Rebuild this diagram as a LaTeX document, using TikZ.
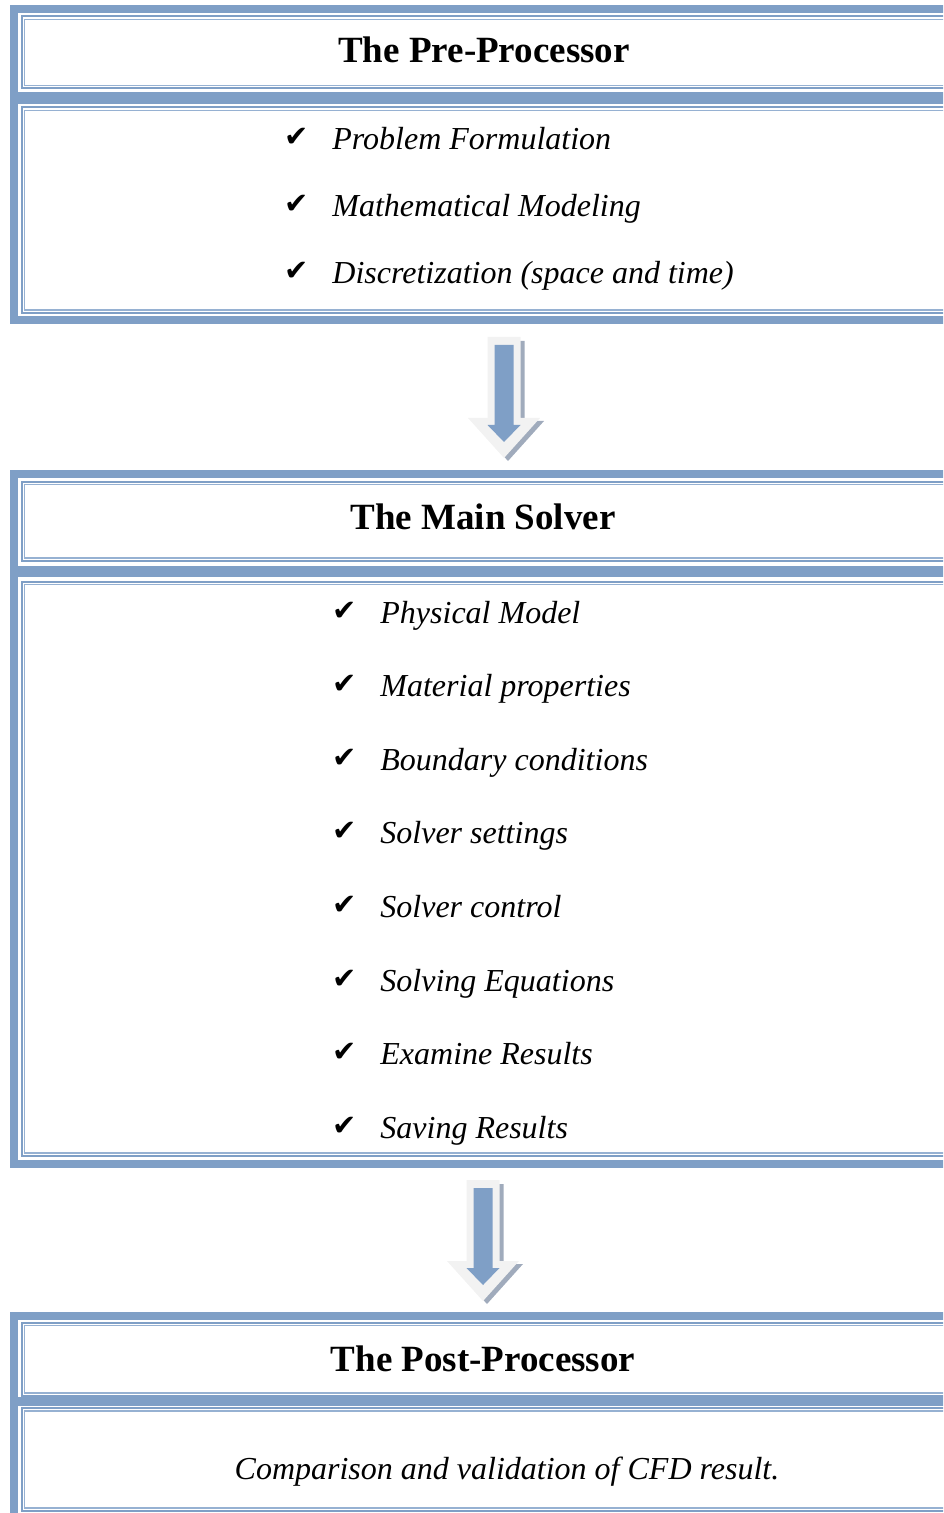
\documentclass[tikz,border=0pt]{standalone}
\usepackage{fontspec}
\setmainfont{Liberation Serif}
\newfontfamily\symfont{DejaVu Sans}
\definecolor{frameblue}{RGB}{127,159,198}
\definecolor{framelight}{RGB}{150,177,210}
\definecolor{arrowgray}{RGB}{242,242,242}
\definecolor{arrowshade}{RGB}{160,171,188}
\tikzset{
  band/.style={draw=frameblue,line width=4pt},
  dline/.style={draw=frameblue,line width=1pt},
  dlight/.style={draw=framelight,line width=0.6pt},
  title/.style={font=\fontsize{18.5}{22}\selectfont\bfseries,anchor=base,inner sep=0pt},
  item/.style={font=\fontsize{16}{19}\selectfont\itshape,anchor=base west,inner sep=0pt},
  tick/.style={font=\symfont\fontsize{14.5}{17}\selectfont,anchor=base west,inner sep=0pt}
}
\newcommand{\dframe}[4]{\draw[dline] (#1,#2) rectangle (#3,#4); \draw[dlight] (#1+3,#2+3) rectangle (#3-3,#4-3);}
\newcommand{\flowarrow}[2]{%
  \begin{scope}[shift={(#1,#2)}]
    \fill[arrowshade] (-12.5,4) -- (20.5,4) -- (20.5,84) -- (40,84) -- (4,124) -- (-32,84) -- (-12.5,84) -- cycle;
    \fill[arrowgray] (-16.5,0) -- (16.5,0) -- (16.5,81) -- (36,81) -- (0,121) -- (-36,81) -- (-16.5,81) -- cycle;
    \fill[frameblue] (-9.5,8) -- (9.5,8) -- (9.5,88) -- (16.5,88) -- (0,105) -- (-16.5,88) -- (-9.5,88) -- cycle;
  \end{scope}}

\begin{document}
\begin{tikzpicture}[x=0.5pt,y=-0.5pt]
\useasboundingbox (0,0) rectangle (943,1513);
\clip (0,0) rectangle (943,1513);
\draw[band] (960,9) -- (14,9) -- (14,320) -- (960,320);
\draw[band,line width=6pt] (14,98) -- (960,98);
\dframe{21.5}{16.5}{960}{88.5}
\dframe{21.5}{107.5}{960}{313}
\node[title] (pre) at (484,63) {The Pre-Processor};
\node[tick] (t1) at (284,147) {✔}; \node[item] (i1) at (332,150) {Problem Formulation};
\node[tick] (t2) at (284,214) {✔}; \node[item] (i2) at (332,217) {Mathematical Modeling};
\node[tick] (t3) at (284,281) {✔}; \node[item] (i3) at (332,284) {Discretization (space and time)};
\flowarrow{504}{337}
\draw[band] (960,474) -- (14,474) -- (14,1163.5) -- (960,1163.5);
\draw[band,line width=5.5pt] (14,571.5) -- (960,571.5);
\dframe{21.5}{481.5}{960}{561}
\dframe{21.5}{581.5}{960}{1156}
\node[title] (main) at (483,529) {The Main Solver};
\node[tick] (t4) at (332,620) {✔}; \node[item] (i4) at (380,623) {Physical Model};
\node[tick] (t5) at (332,693) {✔}; \node[item] (i5) at (380,696) {Material properties};
\node[tick] (t6) at (332,767) {✔}; \node[item] (i6) at (380,770) {Boundary conditions};
\node[tick] (t7) at (332,840) {✔}; \node[item] (i7) at (380,843) {Solver settings};
\node[tick] (t8) at (332,914) {✔}; \node[item] (i8) at (380,917) {Solver control};
\node[tick] (t9) at (332,988) {✔}; \node[item] (i9) at (380,991) {Solving Equations};
\node[tick] (t10) at (332,1061) {✔}; \node[item] (i10) at (380,1064) {Examine Results};
\node[tick] (t11) at (332,1135) {✔}; \node[item] (i11) at (380,1138) {Saving Results};
\flowarrow{483}{1180}
\draw[band] (960,1316) -- (14,1316) -- (14,1530);
\draw[band,line width=4.5pt] (14,1401.5) -- (960,1401.5);
\dframe{21.5}{1322.5}{960}{1396}
\dframe{21.5}{1408}{960}{1511}
\node[title] (post) at (483,1371) {The Post-Processor};
\node[item,anchor=base] (res) at (507,1479) {Comparison and validation of CFD result.};
\end{tikzpicture}
\end{document}
